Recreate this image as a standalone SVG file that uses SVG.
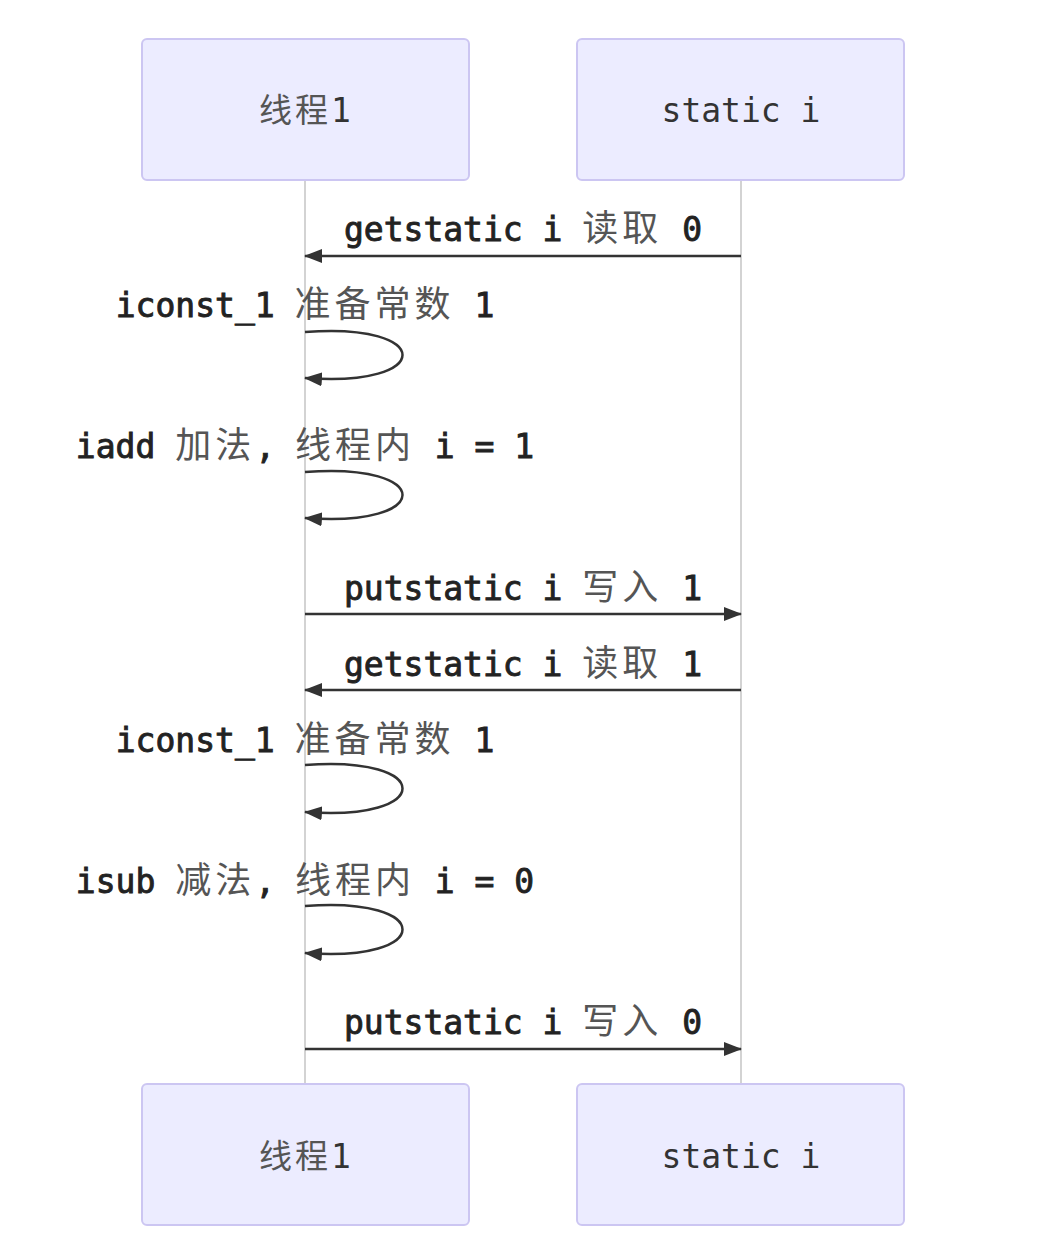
<svg xmlns="http://www.w3.org/2000/svg" width="1046" height="1250" viewBox="0 0 1046 1250">
<style>
.actor{fill:#ECECFF;stroke:#CCC6F2;stroke-width:2}
.atext{font-family:"DejaVu Sans Mono","Noto Sans CJK SC",monospace;font-size:33px;fill:#333;text-anchor:middle}
.life{stroke:#D3D3D3;stroke-width:2}
.msg{stroke:#333;stroke-width:2.5;fill:none}
.mtext{font-family:"DejaVu Sans Mono","Noto Sans CJK SC",monospace;font-size:33px;fill:#222;stroke:#222;stroke-width:0.9;text-anchor:middle}
.cj{font-family:"Noto Sans CJK SC",sans-serif;font-size:36px;fill:#555;stroke:none;letter-spacing:4px}
.acj{font-family:"Noto Sans CJK SC",sans-serif;fill:#555;letter-spacing:3px}
</style>
<defs>
<marker id="ah" viewBox="0 0 18 14" refX="17" refY="7" markerWidth="18" markerHeight="14" markerUnits="userSpaceOnUse" orient="auto">
<path d="M0,0 L18,7 L0,14 z" fill="#333"/>
</marker>
</defs>
<rect width="1046" height="1250" fill="#FFFFFF"/>
<g id="lifelines">
<line class="life" x1="305" y1="180" x2="305" y2="1084"/>
<line class="life" x1="741" y1="180" x2="741" y2="1084"/>
</g>
<g id="actor-thread-top">
<rect class="actor" x="142" y="39" width="327" height="141" rx="5"/>
<text class="atext" x="305" y="122"><tspan class="acj">线程</tspan>1</text>
</g>
<g id="actor-static-top">
<rect class="actor" x="577" y="39" width="327" height="141" rx="5"/>
<text class="atext" x="741" y="122">static i</text>
</g>
<g id="actor-thread-bottom">
<rect class="actor" x="142" y="1084" width="327" height="141" rx="5"/>
<text class="atext" x="305" y="1168"><tspan class="acj">线程</tspan>1</text>
</g>
<g id="actor-static-bottom">
<rect class="actor" x="577" y="1084" width="327" height="141" rx="5"/>
<text class="atext" x="741" y="1168">static i</text>
</g>
<g id="connectors">
<line class="msg" x1="741" y1="256" x2="305" y2="256" marker-end="url(#ah)"/>
<path class="msg" d="M305,332 C435,322 435,388 305,378" marker-end="url(#ah)"/>
<path class="msg" d="M305,472 C435,462 435,528 305,518" marker-end="url(#ah)"/>
<line class="msg" x1="305" y1="614" x2="741" y2="614" marker-end="url(#ah)"/>
<line class="msg" x1="741" y1="690" x2="305" y2="690" marker-end="url(#ah)"/>
<path class="msg" d="M305,765 C435,755 435,822 305,812" marker-end="url(#ah)"/>
<path class="msg" d="M305,906 C435,896 435,963 305,953" marker-end="url(#ah)"/>
<line class="msg" x1="305" y1="1049" x2="741" y2="1049" marker-end="url(#ah)"/>
</g>
<g id="labels">
<text class="mtext" x="523" y="241">getstatic i <tspan class="cj">读取</tspan> 0</text>
<text class="mtext" x="305" y="317">iconst_1 <tspan class="cj">准备常数</tspan> 1</text>
<text class="mtext" x="305" y="458">iadd <tspan class="cj">加法</tspan>, <tspan class="cj">线程内</tspan> i = 1</text>
<text class="mtext" x="523" y="600">putstatic i <tspan class="cj">写入</tspan> 1</text>
<text class="mtext" x="523" y="676">getstatic i <tspan class="cj">读取</tspan> 1</text>
<text class="mtext" x="305" y="752">iconst_1 <tspan class="cj">准备常数</tspan> 1</text>
<text class="mtext" x="305" y="893">isub <tspan class="cj">减法</tspan>, <tspan class="cj">线程内</tspan> i = 0</text>
<text class="mtext" x="523" y="1034">putstatic i <tspan class="cj">写入</tspan> 0</text>
</g>
</svg>
